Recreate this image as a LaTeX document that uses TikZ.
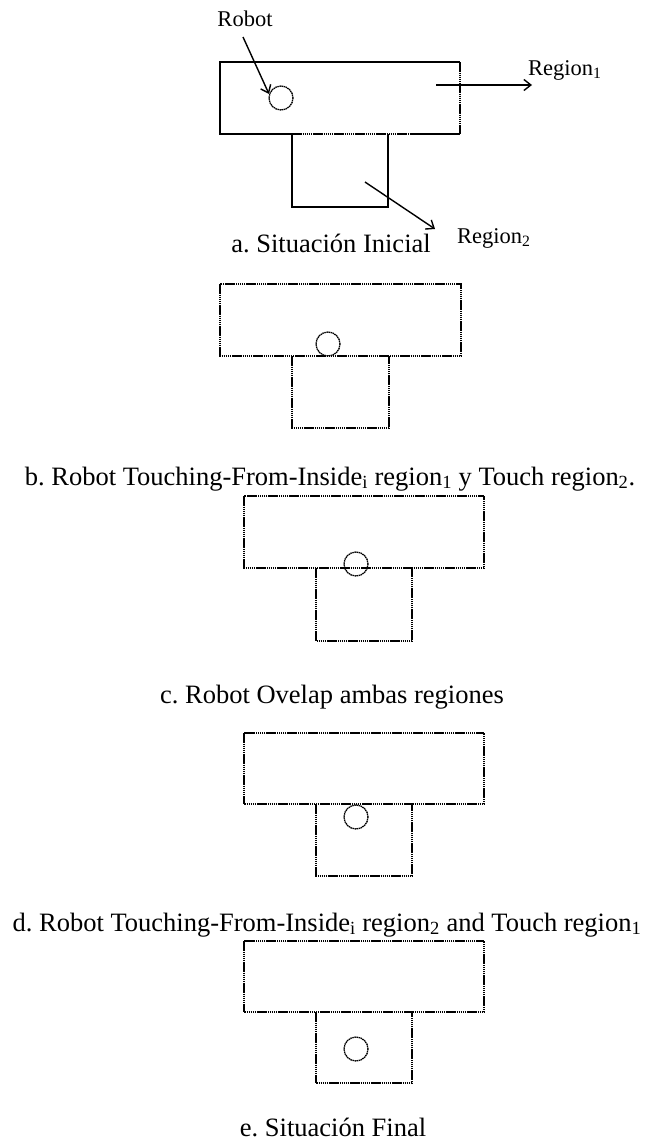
\documentclass[tikz,border=0pt]{standalone}
\usepackage{fontspec}
\setmainfont{Liberation Serif}
\usetikzlibrary{arrows.meta}
\frenchspacing
\begin{document}
\begin{tikzpicture}[x=1pt,y=-1pt,
  solidln/.style={line width=1.4pt},
  dotln/.style={line width=1.3pt,dash pattern=on 1.5pt off 0.6pt},
  robotc/.style={circle,draw,line width=1.3pt,dash pattern=on 1.5pt off 0.6pt,minimum size=24pt,inner sep=0pt},
  lbl/.style={font=\fontsize{22.5}{26}\selectfont,inner sep=0pt},
  captxt/.style={font=\fontsize{26.5}{30}\selectfont,inner sep=0pt,anchor=base},
  arr/.style={line width=1.4pt,-{Straight Barb[length=7pt,width=11pt,line width=1.4pt]}}]
\useasboundingbox (0,0) rectangle (646,1143);
% ---- panel a
\draw[solidln] (460,62) -- (220,62) -- (220,134) -- (292,134);
\draw[solidln] (410,134) -- (460,134);
\draw[dotln] (460,62) -- (460,134);
\draw[dotln] (292,134) -- (410,134);
\draw[solidln] (292,134) -- (292,207) -- (388,207) -- (388,134);
\node[robotc] (ra) at (281,98) {};
\node[lbl,anchor=base] (robot) at (245,26) {Robot};
\node[lbl,anchor=base west] (reg1) at (528,75) {Region\textsubscript{1}};
\node[lbl,anchor=base west] (reg2) at (457,243) {Region\textsubscript{2}};
\coordinate (r1s) at (436,85);
\coordinate (r1e) at (532,85);
\coordinate (r2s) at (365,182);
\coordinate (r2e) at (435,229);
\coordinate (rbs) at (243,37);
\coordinate (rbe) at (269,94);
\draw[arr] (rbs) -- (rbe);
\draw[arr] (r1s) -- (r1e);
\draw[arr] (r2s) -- (r2e);
\node[captxt] (capa) at (331,252) {a. Situación Inicial};
% ---- panel b
\draw[dotln] (220,284) rectangle (461,356);
\draw[dotln] (292,356) -- (292,428) -- (389,428) -- (389,356);
\node[robotc] (rb) at (328,344) {};
\node[captxt] (capb) at (330,485) {b. Robot Touching-From-Inside\textsubscript{i} region\textsubscript{1} y Touch region\textsubscript{2}.};
% ---- panel c
\draw[dotln] (244,496) rectangle (484,568);
\draw[dotln] (316,568) -- (316,641) -- (412,641) -- (412,568);
\node[robotc] (rc) at (356,564) {};
\node[captxt] (capc) at (332,703) {c. Robot Ovelap ambas regiones};
% ---- panel d
\draw[dotln] (244,733) rectangle (484,804);
\draw[dotln] (316,804) -- (316,876) -- (412,876) -- (412,804);
\node[robotc] (rd) at (356,817) {};
\node[captxt] (capd) at (327,931) {d. Robot Touching-From-Inside\textsubscript{i} region\textsubscript{2} and Touch region\textsubscript{1}};
% ---- panel e
\draw[dotln] (244,941) rectangle (484,1012);
\draw[dotln] (316,1012) -- (316,1083) -- (412,1083) -- (412,1012);
\node[robotc] (re) at (356,1049) {};
\node[captxt] (cape) at (333,1136) {e. Situación Final};
\end{tikzpicture}
\end{document}
